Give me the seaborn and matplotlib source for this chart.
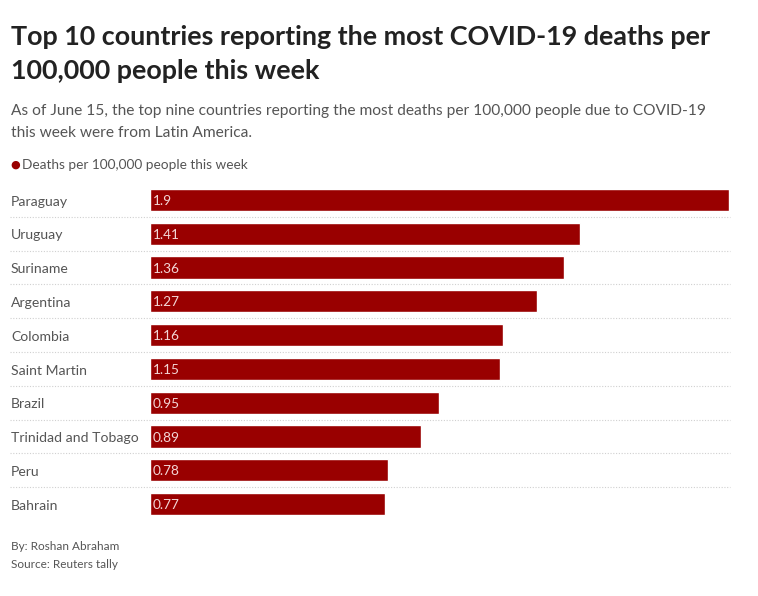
import pandas as pd
import matplotlib.pyplot as plt
import seaborn as sns

# data
countries = ["Paraguay", "Uruguay", "Suriname", "Argentina", "Colombia",
             "Saint Martin", "Brazil", "Trinidad and Tobago", "Peru", "Bahrain"]
deaths = [1.9, 1.41, 1.36, 1.27, 1.16, 1.15, 0.95, 0.89, 0.78, 0.77]
value_labels = ["1.9", "1.41", "1.36", "1.27", "1.16", "1.15", "0.95", "0.89", "0.78", "0.77"]

df = pd.DataFrame({"country": countries, "deaths": deaths})

sns.set_style("white")
plt.rcParams['font.family'] = ['Lato', 'DejaVu Sans']

W, H = 758, 596
fig = plt.figure(figsize=(W / 100, H / 100), dpi=100)
ax = fig.add_axes([150 / W, 1 - 521 / H, 579 / W, (521 - 183) / H])

bar_red = "#990000"
sns.barplot(data=df, x="deaths", y="country", orient="h", color=bar_red,
            saturation=1, width=0.66, ax=ax)

ax.set_xlim(0, 1.9)
ax.set_ylim(len(countries) - 0.5, -0.5)
ax.set_xlabel("")
ax.set_ylabel("")
ax.set_xticks([])
ax.set_yticks([])
for s in ax.spines.values():
    s.set_visible(False)

# country names, value labels and dotted separators
for i, (c, lab) in enumerate(zip(countries, value_labels)):
    ax.text(-139 / 579, i + 0.05, c, transform=ax.get_yaxis_transform(),
            ha="left", va="center", fontsize=10.1, color="#555555")
    ax.text(0.01, i + 0.03, lab, ha="left", va="center", fontsize=9.8,
            color="#f3d6d6")
    if i < len(countries) - 1:
        ax.axhline(i + 0.5, xmin=-140 / 579, xmax=1.002, clip_on=False,
                   color="#d0d0d0", lw=0.8, ls=(0, (1, 1.5)))

# titles
fig.text(11 / W, 1 - 37 / H, "Top 10 countries reporting the most COVID-19 deaths per",
         fontsize=19.4, fontweight="bold", color="#222222", va="center", ha="left")
fig.text(11 / W, 1 - 71 / H, "100,000 people this week",
         fontsize=19.4, fontweight="bold", color="#222222", va="center", ha="left")
fig.text(11 / W, 1 - 111 / H,
         "As of June 15, the top nine countries reporting the most deaths per 100,000 people due to COVID-19",
         fontsize=11.15, color="#555555", va="center", ha="left")
fig.text(11 / W, 1 - 133 / H, "this week were from Latin America.",
         fontsize=11.15, color="#555555", va="center", ha="left")

# legend
fig.text(10 / W, 1 - 165 / H, "\u25cf", fontsize=8, color=bar_red,
         va="center", ha="left", family=["DejaVu Sans"])
fig.text(22 / W, 1 - 165 / H, "Deaths per 100,000 people this week",
         fontsize=9.85, color="#555555", va="center", ha="left")

# footer
fig.text(11 / W, 1 - 547 / H, "By: Roshan Abraham", fontsize=8.5,
         color="#555555", va="center", ha="left")
fig.text(11 / W, 1 - 565 / H, "Source: Reuters tally", fontsize=8.5,
         color="#555555", va="center", ha="left")

fig.savefig("out.png", dpi=100, facecolor="white")
